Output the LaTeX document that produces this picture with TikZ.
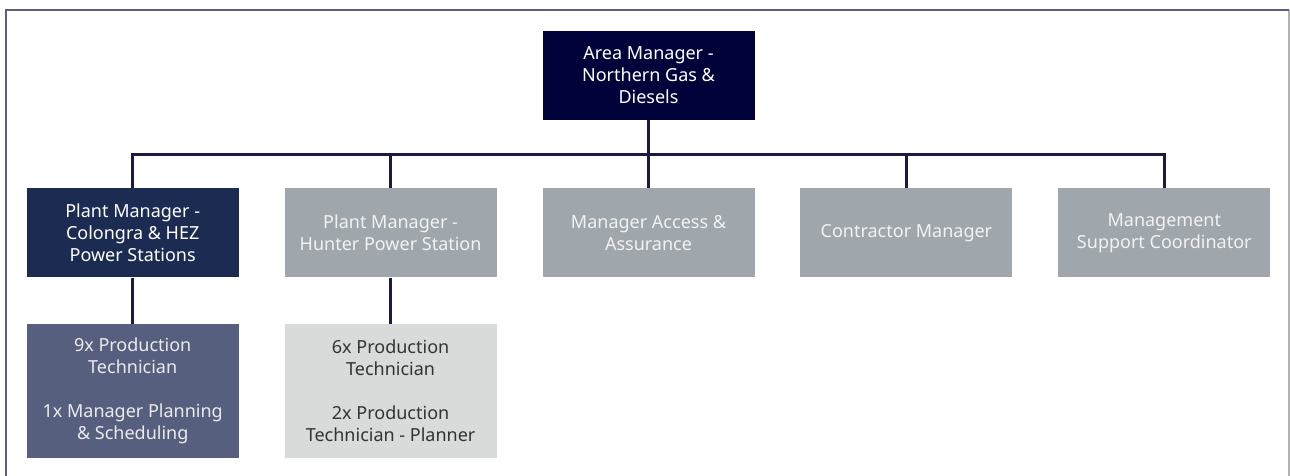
\documentclass[tikz,border=0pt]{standalone}
\usepackage{fontspec}
\setmainfont{Noto Sans}
\usepackage{xcolor}
\usetikzlibrary{positioning,calc}
\definecolor{areablue}{HTML}{02023A}
\definecolor{plantblue}{HTML}{1B2B52}
\definecolor{staffblue}{HTML}{565F7E}
\definecolor{mgrgrey}{HTML}{A0A7AC}
\definecolor{staffgrey}{HTML}{D8DBDA}
\definecolor{linecol}{HTML}{1A1A45}

\begin{document}
\begin{tikzpicture}[
	x=1pt, y=-1pt,
	rolenode/.style={rectangle, minimum width=212pt, minimum height=89pt, inner sep=2pt, align=center, font=\fontsize{18}{22}\selectfont},
	darknode/.style={rolenode, fill=areablue, text=white},
	plantnode/.style={rolenode, fill=plantblue, text=white},
	greynode/.style={rolenode, fill=mgrgrey, text=white!95!black},
	teamnode/.style={rolenode, minimum height=134pt},
	link/.style={draw=linecol, line width=3pt},
	node distance=45.5pt
	]
	\useasboundingbox (0,0) rectangle (1290,476);
	%frame
	\draw[black!30, line width=1.5pt] (1289,10) -- (1289,476);
	\draw[linecol!70, line width=2pt] (6,476) -- (6,10) -- (1289,10);
	%Nodes
	\node[darknode]      (area)     at (648.5,75.5)        {Area Manager -\\Northern Gas \&\\Diesels};
	\node[greynode]      (access)   [below=68pt of area]   {Manager Access \&\\Assurance};
	\node[greynode]      (hunter)   [left=of access]       {Plant Manager -\\Hunter Power Station};
	\node[plantnode]     (colongra) [left=of hunter]       {Plant Manager -\\Colongra \& HEZ\\Power Stations};
	\node[greynode]      (contract) [right=of access]      {Contractor Manager};
	\node[greynode]      (support)  [right=of contract]    {Management\\Support Coordinator};
	\node[teamnode, fill=staffblue, text=white!92!black] (colteam) [below=46pt of colongra]
		{9x Production\\Technician\\[22pt]1x Manager Planning\\\& Scheduling};
	\node[teamnode, fill=staffgrey, text=black!80] (huntteam) [below=46pt of hunter]
		{6x Production\\Technician\\[22pt]2x Production\\Technician - Planner};
	%Lines
	\coordinate (bus) at ($(area.south)!0.5!(access.north)$);
	\draw[link] (area.south) -- (bus);
	\foreach \n in {colongra,hunter,access,contract,support}
		\draw[link] (bus) -| (\n.north);
	\draw[link] (colongra.south) -- (colteam.north);
	\draw[link] (hunter.south) -- (huntteam.north);
\end{tikzpicture}
\end{document}
